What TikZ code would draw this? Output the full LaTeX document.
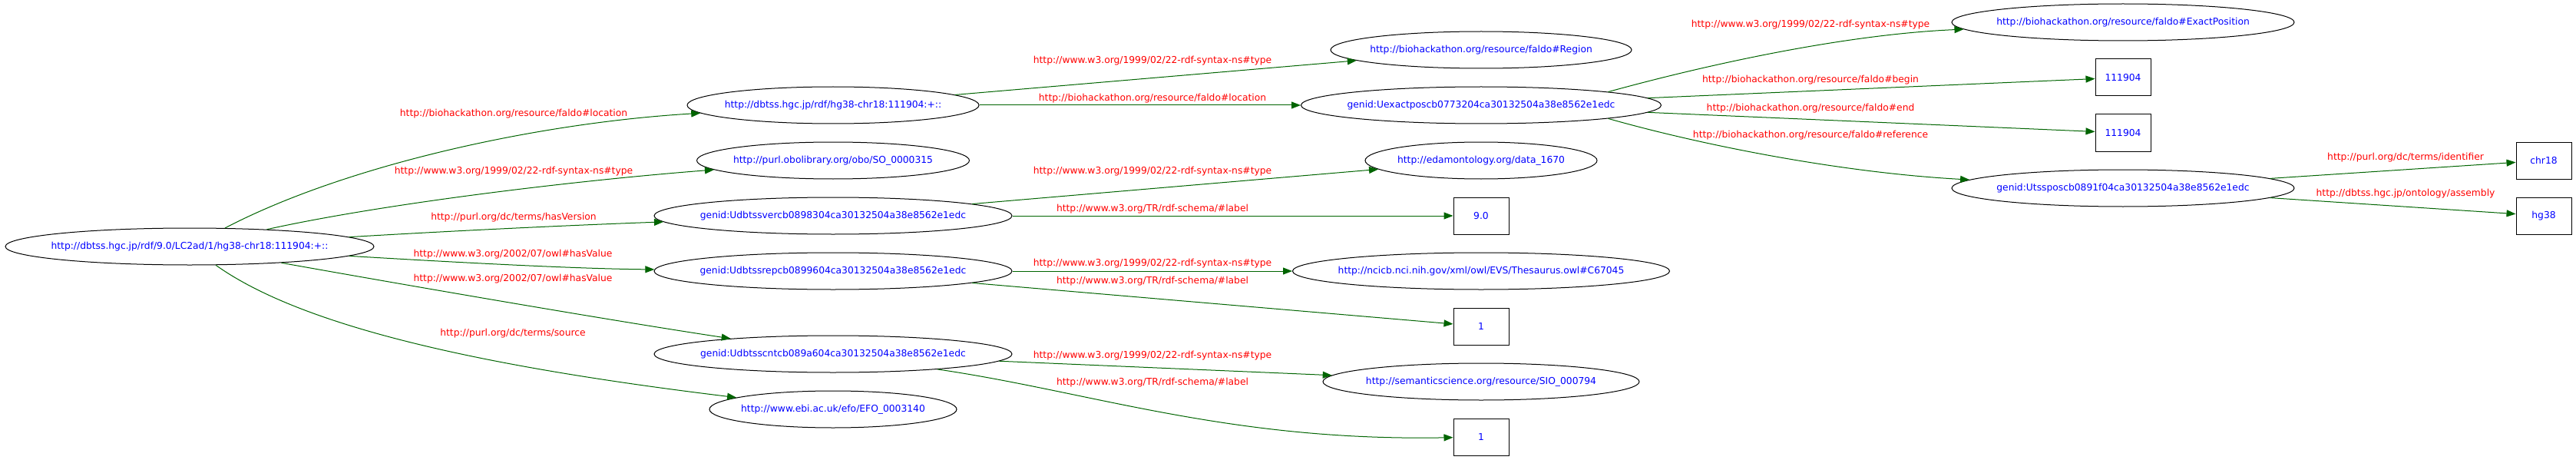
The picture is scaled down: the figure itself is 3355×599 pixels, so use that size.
\documentclass[tikz,border=0pt]{standalone}
\usepackage{fontspec}
\setmainfont{DejaVu Sans}
\usetikzlibrary{shapes.geometric,arrows.meta}
\definecolor{edgegreen}{RGB}{0,100,0}
\newcommand{\ctext}[1]{\makebox[0pt]{#1}}
\begin{document}
\begin{tikzpicture}[x=1pt,y=-1pt,
        every node/.style={font=\fontsize{12.3}{14}\selectfont},
        res/.style={ellipse,draw,line width=1pt,inner sep=0pt,minimum height=48,text=blue},
        lit/.style={rectangle,draw,line width=1pt,inner sep=0pt,minimum width=72,minimum height=48,text=blue},
        prop/.style={text=red,inner sep=0pt},
        link/.style={draw=edgegreen,line width=1pt,-{Triangle[length=12pt,width=9pt]}}]
      \useasboundingbox (0,0) rectangle (3355,599);
      % resources and literals
      \node[res,minimum width=480] (root) at (247,321) {\ctext{http://dbtss.hgc.jp/rdf/9.0/LC2ad/1/hg38-chr18:111904:+::}};
      \node[res,minimum width=380] (loc) at (1085,137) {\ctext{http://dbtss.hgc.jp/rdf/hg38-chr18:111904:+::}};
      \node[res,minimum width=355] (so) at (1085,209) {\ctext{http://purl.obolibrary.org/obo/SO\_0000315}};
      \node[res,minimum width=466] (verc) at (1085,281) {\ctext{genid:Udbtssvercb0898304ca30132504a38e8562e1edc}};
      \node[res,minimum width=466] (repc) at (1085,353) {\ctext{genid:Udbtssrepcb0899604ca30132504a38e8562e1edc}};
      \node[res,minimum width=466] (cntc) at (1085,461) {\ctext{genid:Udbtsscntcb089a604ca30132504a38e8562e1edc}};
      \node[res,minimum width=322] (efo) at (1085,533) {\ctext{http://www.ebi.ac.uk/efo/EFO\_0003140}};
      \node[res,minimum width=392] (region) at (1929,65) {\ctext{http://biohackathon.org/resource/faldo\#Region}};
      \node[res,minimum width=469] (exactpos) at (1929,137) {\ctext{genid:Uexactposcb0773204ca30132504a38e8562e1edc}};
      \node[res,minimum width=302] (edam) at (1929,209) {\ctext{http://edamontology.org/data\_1670}};
      \node[lit] (ver) at (1929,281) {9.0};               % version label
      \node[res,minimum width=491] (thes) at (1929,353) {\ctext{http://ncicb.nci.nih.gov/xml/owl/EVS/Thesaurus.owl\#C67045}};
      \node[lit] (rep) at (1929,425) {1};                 % representative label
      \node[res,minimum width=412] (sio) at (1929,497) {\ctext{http://semanticscience.org/resource/SIO\_000794}};
      \node[lit] (cnt) at (1929,569) {1};                 % count label
      \node[res,minimum width=446] (exactcls) at (2765,29) {\ctext{http://biohackathon.org/resource/faldo\#ExactPosition}};
      \node[lit] (beginpos) at (2765,101) {111904};
      \node[lit] (endpos) at (2765,173) {111904};
      \node[res,minimum width=446] (tsspos) at (2765,245) {\ctext{genid:Utssposcb0891f04ca30132504a38e8562e1edc}};
      \node[lit] (chr) at (3313,209) {chr18};
      \node[lit] (asm) at (3313,281) {hg38};
      % properties
      \node[prop] (plocA) at (669,148) {http://biohackathon.org/resource/faldo\#location};
      \node[prop] (ptypeA) at (669,223) {http://www.w3.org/1999/02/22-rdf-syntax-ns\#type};
      \node[prop] (pver) at (669,283) {http://purl.org/dc/terms/hasVersion};
      \node[prop] (pvalA) at (668,331) {http://www.w3.org/2002/07/owl\#hasValue};
      \node[prop] (pvalB) at (668,363) {http://www.w3.org/2002/07/owl\#hasValue};
      \node[prop] (psrc) at (668,434) {http://purl.org/dc/terms/source};
      \node[prop] (ptypeB) at (1501,79) {http://www.w3.org/1999/02/22-rdf-syntax-ns\#type};
      \node[prop] (plocB) at (1501,128) {http://biohackathon.org/resource/faldo\#location};
      \node[prop] (ptypeC) at (1501,223) {http://www.w3.org/1999/02/22-rdf-syntax-ns\#type};
      \node[prop] (plabA) at (1501,272) {http://www.w3.org/TR/rdf-schema/\#label};
      \node[prop] (ptypeD) at (1501,343) {http://www.w3.org/1999/02/22-rdf-syntax-ns\#type};
      \node[prop] (plabB) at (1501,366) {http://www.w3.org/TR/rdf-schema/\#label};
      \node[prop] (ptypeE) at (1501,463) {http://www.w3.org/1999/02/22-rdf-syntax-ns\#type};
      \node[prop] (plabC) at (1501,498) {http://www.w3.org/TR/rdf-schema/\#label};
      \node[prop] (ptypeF) at (2358,32) {http://www.w3.org/1999/02/22-rdf-syntax-ns\#type};
      \node[prop] (pbegin) at (2358,104) {http://biohackathon.org/resource/faldo\#begin};
      \node[prop] (pend) at (2358,141) {http://biohackathon.org/resource/faldo\#end};
      \node[prop] (pref) at (2358,176) {http://biohackathon.org/resource/faldo\#reference};
      \node[prop] (pid) at (3133,205) {http://purl.org/dc/terms/identifier};
      \node[prop] (pasm) at (3133,252) {http://dbtss.hgc.jp/ontology/assembly};
      % triples
      \draw[link] (root) .. controls (450,215) and (700,160) .. (loc);
      \draw[link] (root) .. controls (500,265) and (750,235) .. (so);
      \draw[link] (root) .. controls (600,300) and (750,293) .. (verc);
      \draw[link] (root) .. controls (600,342) and (750,350) .. (repc);
      \draw[link] (root) .. controls (550,375) and (800,418) .. (cntc);
      \draw[link] (root) .. controls (400,430) and (650,480) .. (efo);
      \draw[link] (loc) -- (region);
      \draw[link] (loc) -- (exactpos);
      \draw[link] (verc) -- (edam);
      \draw[link] (verc) -- (ver);
      \draw[link] (repc) -- (thes);
      \draw[link] (repc) -- (rep);
      \draw[link] (cntc) -- (sio);
      \draw[link] (cntc) .. controls (1420,510) and (1600,575) .. (cnt);
      \draw[link] (exactpos.6) .. controls (2220,85) and (2400,45) .. (exactcls);
      \draw[link] (exactpos) -- (beginpos);
      \draw[link] (exactpos) -- (endpos);
      \draw[link] (exactpos.-6) .. controls (2220,190) and (2400,225) .. (tsspos);
      \draw[link] (tsspos) -- (chr);
      \draw[link] (tsspos) -- (asm);
\end{tikzpicture}
\end{document}
